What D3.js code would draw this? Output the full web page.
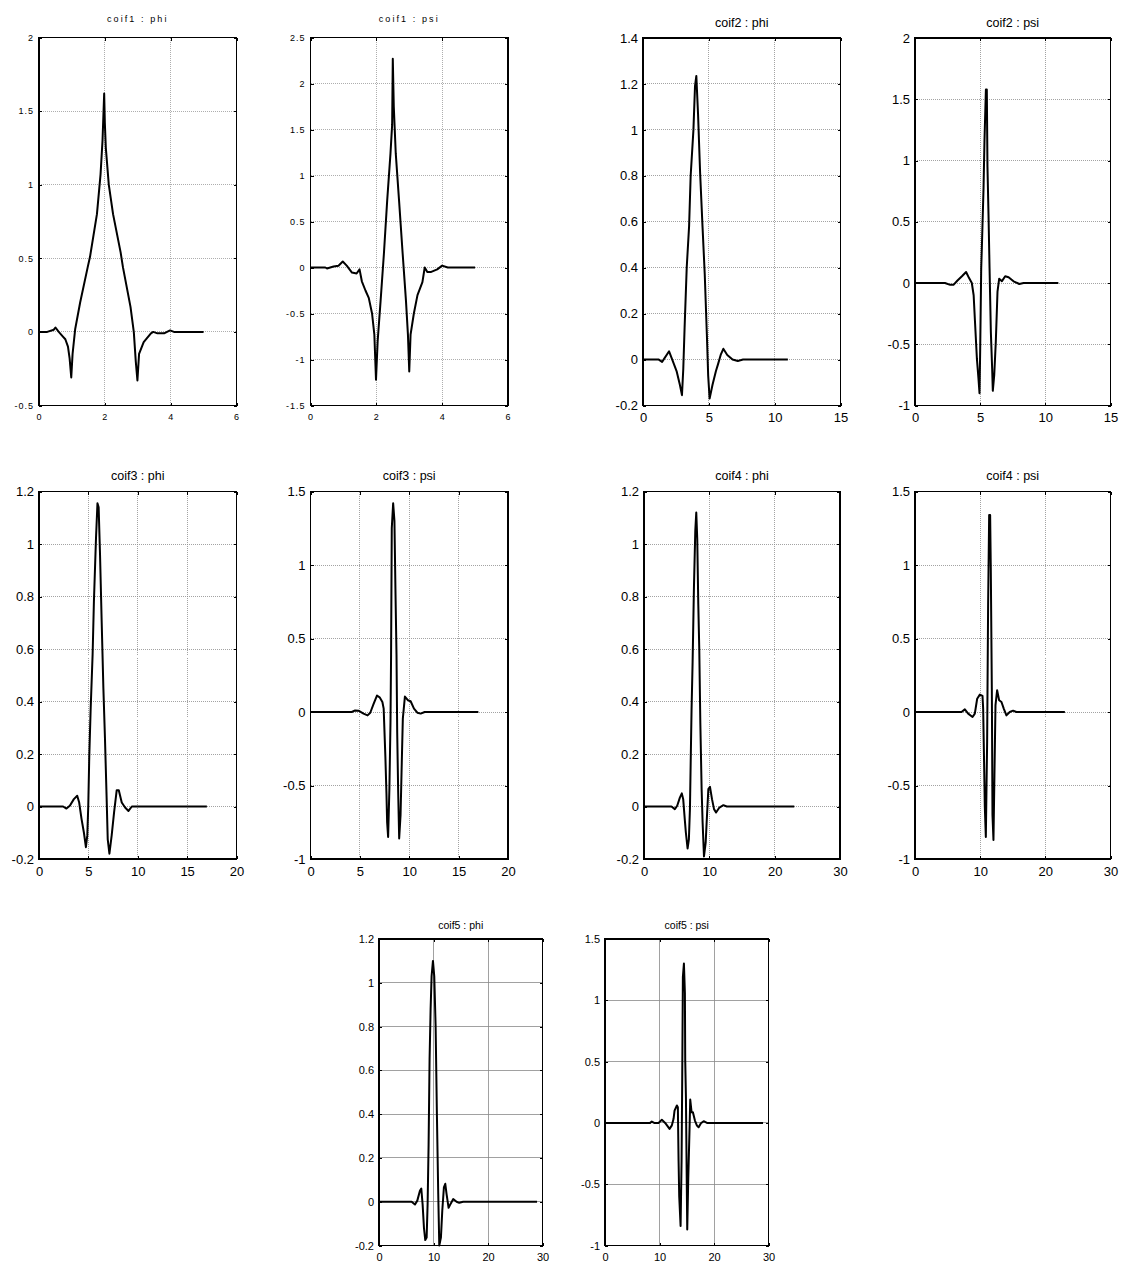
<!DOCTYPE html>
<html>
<head>
<meta charset="utf-8">
<script src="https://cdn.jsdelivr.net/npm/d3@7"></script>
<style>
  body { margin: 0; background: #fff; }
  svg { display: block; }
</style>
</head>
<body>
<svg id="fig" width="1121" height="1262"></svg>
<script>
// ---- sampled curves: scaling (phi) and wavelet (psi) functions ----
const coif1PhiX = [0, 0.25, 0.45, 0.5, 0.6, 0.72, 0.8, 0.88, 0.93, 0.98, 1.02, 1.1, 1.25, 1.48, 1.55, 1.76, 1.87, 1.93, 1.98, 2.0, 2.03, 2.12, 2.25, 2.48, 2.55, 2.78, 2.88, 2.94, 2.99, 3.04, 3.18, 3.4, 3.47, 3.6, 3.8, 3.98, 4.1, 5.0];
const coif1PhiY = [0, 0, 0.015, 0.03, 0, -0.03, -0.05, -0.1, -0.18, -0.31, -0.15, 0.02, 0.2, 0.44, 0.51, 0.8, 1.07, 1.3, 1.62, 1.42, 1.25, 1.0, 0.8, 0.54, 0.44, 0.17, 0, -0.2, -0.33, -0.15, -0.07, -0.01, 0, -0.01, -0.01, 0.01, 0, 0];

const coif1PsiX = [0, 0.45, 0.5, 0.7, 0.85, 0.98, 1.1, 1.26, 1.4, 1.49, 1.56, 1.67, 1.77, 1.87, 1.94, 1.99, 2.04, 2.13, 2.23, 2.33, 2.43, 2.48, 2.5, 2.53, 2.59, 2.69, 2.8, 2.9, 2.96, 3.0, 3.04, 3.14, 3.25, 3.4, 3.47, 3.55, 3.65, 3.85, 4.0, 4.17, 5.0];
const coif1PsiY = [0, 0, -0.01, 0.01, 0.02, 0.065, 0.02, -0.055, -0.065, -0.02, -0.15, -0.25, -0.33, -0.5, -0.73, -1.22, -0.8, -0.36, 0.15, 0.73, 1.24, 1.55, 2.27, 1.75, 1.24, 0.73, 0.15, -0.36, -0.73, -1.13, -0.73, -0.5, -0.3, -0.16, 0, -0.05, -0.05, -0.02, 0.02, 0, 0];

const coif2PhiX = [0, 1.2, 1.45, 1.98, 2.17, 2.35, 2.55, 2.8, 2.96, 3.06, 3.16, 3.32, 3.5, 3.62, 3.83, 3.95, 4.05, 4.18, 4.34, 4.52, 4.69, 4.85, 4.95, 5.06, 5.28, 5.54, 5.7, 5.9, 6.1, 6.4, 6.8, 7.2, 7.6, 11];
const coif2PhiY = [0, 0, -0.01, 0.036, 0.007, -0.02, -0.05, -0.11, -0.155, -0.04, 0.14, 0.4, 0.58, 0.8, 1.0, 1.19, 1.235, 1.07, 0.81, 0.58, 0.37, 0.11, -0.07, -0.17, -0.11, -0.05, -0.02, 0.02, 0.047, 0.02, 0, -0.006, 0, 0];

const coif2PsiX = [0, 2.3, 2.7, 2.95, 3.26, 3.6, 3.92, 4.15, 4.36, 4.5, 4.6, 4.75, 4.87, 4.95, 5.0, 5.08, 5.13, 5.26, 5.33, 5.44, 5.51, 5.56, 5.64, 5.72, 5.82, 5.92, 5.97, 6.08, 6.2, 6.33, 6.46, 6.67, 6.92, 7.18, 7.56, 8.0, 8.33, 11];
const coif2PsiY = [0, 0, -0.015, -0.015, 0.02, 0.055, 0.09, 0.04, 0, -0.1, -0.31, -0.62, -0.78, -0.9, -0.56, 0.12, 0.29, 0.78, 1.16, 1.58, 1.58, 0.95, 0.56, 0.12, -0.4, -0.7, -0.88, -0.75, -0.48, -0.07, 0.035, 0.015, 0.055, 0.047, 0.014, -0.008, 0, 0];

const coif3PhiX = [0, 2.44, 2.78, 3.12, 3.53, 3.87, 4.07, 4.31, 4.55, 4.75, 4.89, 4.99, 5.09, 5.23, 5.43, 5.56, 5.77, 5.92, 6.04, 6.18, 6.35, 6.52, 6.68, 6.85, 6.96, 7.13, 7.36, 7.6, 7.87, 8.08, 8.38, 8.72, 9.06, 9.4, 17];
const coif3PhiY = [0, 0, -0.008, 0.003, 0.028, 0.041, 0.015, -0.048, -0.1, -0.155, -0.11, 0.003, 0.19, 0.37, 0.58, 0.78, 1.02, 1.155, 1.14, 0.96, 0.7, 0.45, 0.26, 0.03, -0.125, -0.18, -0.11, -0.023, 0.062, 0.062, 0.015, -0.004, -0.017, 0, 0];

const coif3PsiX = [0, 4.18, 4.52, 4.86, 5.37, 5.78, 6.05, 6.4, 6.73, 7.0, 7.28, 7.41, 7.58, 7.69, 7.76, 7.86, 7.99, 8.1, 8.16, 8.23, 8.37, 8.5, 8.6, 8.71, 8.78, 8.88, 8.98, 9.12, 9.22, 9.35, 9.56, 9.86, 10.14, 10.48, 10.82, 11.16, 11.56, 17];
const coif3PsiY = [0, 0, 0.011, 0.009, -0.011, -0.023, -0.005, 0.057, 0.112, 0.1, 0.068, 0.023, -0.3, -0.55, -0.75, -0.85, -0.52, -0.07, 0.39, 1.25, 1.42, 1.3, 0.84, 0.39, -0.14, -0.55, -0.86, -0.7, -0.41, -0.045, 0.105, 0.08, 0.073, 0.023, -0.005, -0.011, 0, 0];

const coif4PhiX = [0, 4.2, 4.72, 5.08, 5.49, 5.79, 6.0, 6.26, 6.41, 6.67, 6.87, 7.03, 7.18, 7.28, 7.44, 7.64, 7.85, 8.0, 8.15, 8.31, 8.46, 8.62, 8.82, 8.97, 9.18, 9.44, 9.59, 9.85, 10.1, 10.41, 10.72, 11.03, 11.54, 12.15, 12.67, 23];
const coif4PhiY = [0, 0, -0.01, 0.003, 0.034, 0.05, 0.028, -0.055, -0.1, -0.16, -0.125, -0.01, 0.22, 0.37, 0.55, 0.83, 1.05, 1.12, 1.02, 0.77, 0.6, 0.32, 0.066, -0.06, -0.19, -0.138, -0.06, 0.066, 0.075, 0.028, -0.01, -0.023, -0.004, 0.005, 0, 0];

const coif4PsiX = [0, 7.14, 7.65, 8.16, 8.83, 9.18, 9.54, 9.95, 10.36, 10.46, 10.6, 10.71, 10.87, 10.97, 11.07, 11.22, 11.38, 11.53, 11.63, 11.79, 11.89, 12.04, 12.19, 12.35, 12.6, 12.91, 13.27, 13.62, 14.03, 14.54, 15.05, 15.56, 23];
const coif4PsiY = [0, 0, 0.018, -0.011, -0.034, -0.011, 0.09, 0.118, 0.109, 0.023, -0.34, -0.64, -0.85, -0.52, -0.2, 0.73, 1.34, 1.34, 0.98, 0.16, -0.7, -0.87, -0.43, 0.045, 0.148, 0.08, 0.068, 0.023, -0.023, 0, 0.009, 0, 0];

const coif5PhiX = [0, 5.99, 6.6, 7.03, 7.51, 7.76, 8.0, 8.25, 8.49, 8.74, 8.92, 9.1, 9.28, 9.47, 9.65, 9.9, 10.14, 10.39, 10.63, 10.87, 11.06, 11.36, 11.61, 11.91, 12.16, 12.4, 12.77, 13.13, 13.62, 14.23, 14.72, 15.45, 29];
const coif5PhiY = [0, 0, -0.013, 0.005, 0.05, 0.06, -0.011, -0.12, -0.175, -0.164, -0.011, 0.26, 0.65, 0.88, 1.03, 1.1, 1.03, 0.8, 0.39, 0.035, -0.2, -0.164, -0.041, 0.066, 0.082, 0.035, -0.028, -0.01, 0.012, 0, -0.005, 0, 0];

const coif5PsiX = [0, 8.28, 8.59, 9.02, 9.82, 10.43, 11.04, 11.84, 12.27, 12.58, 12.76, 13.19, 13.37, 13.5, 13.62, 13.87, 14.05, 14.17, 14.29, 14.48, 14.66, 14.72, 14.85, 14.97, 15.09, 15.28, 15.52, 15.64, 15.89, 16.13, 16.5, 16.87, 17.18, 17.6, 18.1, 18.71, 29];
const coif5PsiY = [0, 0, 0.011, 0, 0, 0.025, 0, -0.049, -0.02, 0.033, 0.1, 0.142, 0.128, -0.31, -0.6, -0.84, -0.31, 0.37, 1.19, 1.3, 1.06, 0.51, 0.21, -0.34, -0.87, -0.45, -0.035, 0.19, 0.087, 0.087, 0.019, -0.022, -0.036, -0.003, 0.014, 0, 0];

// ---- tick values ----
const xTicksCoif1 = [0, 2, 4, 6];
const xTicksCoif2 = [0, 5, 10, 15];
const xTicksCoif3 = [0, 5, 10, 15, 20];
const xTicksCoif45 = [0, 10, 20, 30];
const yTicksCoif1Phi = [-0.5, 0, 0.5, 1, 1.5, 2];
const yTicksCoif1Psi = [-1.5, -1, -0.5, 0, 0.5, 1, 1.5, 2, 2.5];
const yTicksCoif2Phi = [-0.2, 0, 0.2, 0.4, 0.6, 0.8, 1, 1.2, 1.4];
const yTicksCoif2Psi = [-1, -0.5, 0, 0.5, 1, 1.5, 2];
const yTicksPhi = [-0.2, 0, 0.2, 0.4, 0.6, 0.8, 1, 1.2];
const yTicksPsi = [-1, -0.5, 0, 0.5, 1, 1.5];

// ---- text styles per row ----
const styles = {
  tiny: { font: 9, tickSpacing: 1, titleSpacing: 2.1, titleGap: 15.5, xLabelGap: 14.5, grid: "#9a9a9a", dash: "1,1" },
  std:  { font: 13, tickSpacing: 0, titleSpacing: 0, titleGap: 11.5, xLabelGap: 16.5, grid: "#8c8c8c", dash: "1,1" },
  low:  { font: 11, tickSpacing: 0, titleSpacing: 0, titleGap: 10, xLabelGap: 15, grid: "#8a8a8a", dash: null }
};

// ---- subplot layout ----
const panels = [
  { title: "coif1 : phi", xs: coif1PhiX, ys: coif1PhiY, xd: [0, 6],  yd: [-0.5, 2],  xt: xTicksCoif1,  yt: yTicksCoif1Phi, box: [39, 37.5, 197.5, 368], st: "tiny" },
  { title: "coif1 : psi", xs: coif1PsiX, ys: coif1PsiY, xd: [0, 6],  yd: [-1.5, 2.5], xt: xTicksCoif1,  yt: yTicksCoif1Psi, box: [310.5, 37.5, 197.5, 368], st: "tiny" },
  { title: "coif2 : phi", xs: coif2PhiX, ys: coif2PhiY, xd: [0, 15], yd: [-0.2, 1.4], xt: xTicksCoif2,  yt: yTicksCoif2Phi, box: [643, 38, 197.5, 367.5], st: "std" },
  { title: "coif2 : psi", xs: coif2PsiX, ys: coif2PsiY, xd: [0, 15], yd: [-1, 2],     xt: xTicksCoif2,  yt: yTicksCoif2Psi, box: [915, 38, 195.5, 367.5], st: "std" },
  { title: "coif3 : phi", xs: coif3PhiX, ys: coif3PhiY, xd: [0, 20], yd: [-0.2, 1.2], xt: xTicksCoif3,  yt: yTicksPhi, box: [39, 491.5, 197.5, 367.5], st: "std" },
  { title: "coif3 : psi", xs: coif3PsiX, ys: coif3PsiY, xd: [0, 20], yd: [-1, 1.5],   xt: xTicksCoif3,  yt: yTicksPsi, box: [310.5, 491.5, 197.5, 367.5], st: "std" },
  { title: "coif4 : phi", xs: coif4PhiX, ys: coif4PhiY, xd: [0, 30], yd: [-0.2, 1.2], xt: xTicksCoif45, yt: yTicksPhi, box: [644, 491.5, 196, 367.5], st: "std" },
  { title: "coif4 : psi", xs: coif4PsiX, ys: coif4PsiY, xd: [0, 30], yd: [-1, 1.5],   xt: xTicksCoif45, yt: yTicksPsi, box: [915, 491.5, 195.5, 367.5], st: "std" },
  { title: "coif5 : phi", xs: coif5PhiX, ys: coif5PhiY, xd: [0, 30], yd: [-0.2, 1.2], xt: xTicksCoif45, yt: yTicksPhi, box: [379, 939, 163.5, 306.5], st: "low" },
  { title: "coif5 : psi", xs: coif5PsiX, ys: coif5PsiY, xd: [0, 30], yd: [-1, 1.5],   xt: xTicksCoif45, yt: yTicksPsi, box: [605, 939, 163.5, 306.5], st: "low" }
];

const svg = d3.select("#fig");
const fontFamily = "'Liberation Sans', Arial, Helvetica, sans-serif";
const fmt = v => String(v);

panels.forEach((p, i) => {
  const st = styles[p.st];
  const [left, top, w, h] = p.box;
  const x = d3.scaleLinear().domain(p.xd).range([0, w]);
  const y = d3.scaleLinear().domain(p.yd).range([h, 0]);
  const g = svg.append("g").attr("transform", `translate(${left},${top})`);

  // grid lines at every tick
  const grid = g.append("g").attr("class", "grid");
  grid.selectAll("line.gx").data(p.xt.slice(1, -1)).join("line")
    .attr("x1", d => x(d)).attr("x2", d => x(d)).attr("y1", 0).attr("y2", h);
  grid.selectAll("line.gy").data(p.yt.slice(1, -1)).join("line")
    .attr("y1", d => y(d)).attr("y2", d => y(d)).attr("x1", 0).attr("x2", w);
  grid.selectAll("line")
    .attr("stroke", st.grid).attr("stroke-width", 0.8)
    .attr("stroke-dasharray", st.dash)
    .attr("shape-rendering", "crispEdges");

  // inward tick marks on all four sides, labels on left and bottom
  const tickLen = 3;
  const axL = d3.axisLeft(y).tickValues(p.yt).tickSizeInner(-tickLen).tickSizeOuter(0).tickPadding(5).tickFormat(fmt);
  const axB = d3.axisBottom(x).tickValues(p.xt).tickSizeInner(-tickLen).tickSizeOuter(0).tickPadding(st.xLabelGap - st.font * 0.72).tickFormat(fmt);
  const axR = d3.axisRight(y).tickValues(p.yt).tickSizeInner(-tickLen).tickSizeOuter(0).tickFormat("");
  const axT = d3.axisTop(x).tickValues(p.xt).tickSizeInner(-tickLen).tickSizeOuter(0).tickFormat("");

  const gl = g.append("g").call(axL);
  const gb = g.append("g").attr("transform", `translate(0,${h})`).call(axB);
  g.append("g").attr("transform", `translate(${w},0)`).call(axR);
  g.append("g").call(axT);

  g.selectAll(".domain").remove();
  g.selectAll(".tick line").attr("stroke", "#000").attr("stroke-width", 1).attr("shape-rendering", "crispEdges");
  [gl, gb].forEach(a => a.selectAll("text")
    .attr("fill", "#000")
    .style("font-family", fontFamily)
    .style("font-size", st.font + "px")
    .style("letter-spacing", st.tickSpacing + "px"));
  gb.selectAll("text").attr("dy", null).attr("y", st.xLabelGap);

  // curve
  const pts = d3.zip(p.xs, p.ys);
  g.append("path")
    .datum(pts)
    .attr("fill", "none")
    .attr("stroke", "#000")
    .attr("stroke-width", 2)
    .attr("stroke-linejoin", "round")
    .attr("d", d3.line().x(d => x(d[0])).y(d => y(d[1])));

  // axes box
  g.append("rect")
    .attr("x", 0).attr("y", 0).attr("width", w).attr("height", h)
    .attr("fill", "none").attr("stroke", "#000").attr("stroke-width", 1.2)
    .attr("shape-rendering", "crispEdges");

  // title
  g.append("text")
    .attr("x", w / 2).attr("y", -st.titleGap)
    .attr("text-anchor", "middle")
    .style("font-family", fontFamily)
    .style("font-size", (p.st === "tiny" ? 9 : p.st === "low" ? 10.5 : 12.5) + "px")
    .style("letter-spacing", st.titleSpacing + "px")
    .text(p.title);
});
</script>
</body>
</html>
